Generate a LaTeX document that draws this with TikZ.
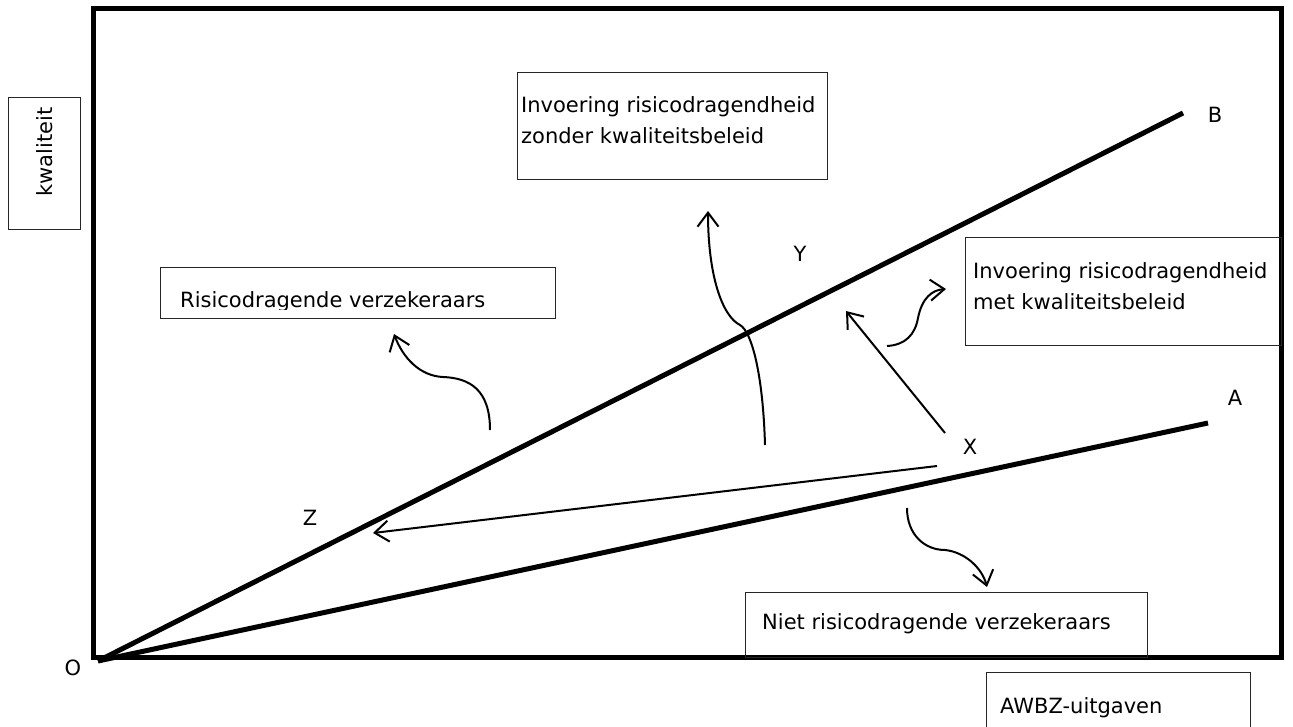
\documentclass[tikz,border=0pt]{standalone}
\usepackage{fontspec}
\setmainfont{DejaVu Sans}
\usetikzlibrary{arrows.meta}
\begin{document}
\begin{tikzpicture}[x=1pt,y=-1pt,
  box/.style={draw=black!85,line width=1pt,rectangle,inner sep=0pt,anchor=north west},
  lbl/.style={inner sep=0pt,font=\fontsize{21}{31}\selectfont},
  thick line/.style={line width=5pt},
  arr/.style={line width=2pt,-{Straight Barb[length=14pt,width=21pt,line width=2pt]}},
  curvy/.style={line width=2pt,-{Straight Barb[length=14pt,width=21pt,line width=2pt]}}]
\useasboundingbox (0,0) rectangle (1293,726);
% frame
\draw[line width=5pt] (93,8) rectangle (1281,657);
% boxes
\node[box,minimum width=72pt,minimum height=132pt] (kb) at (8,97) {};
\node[lbl,rotate=90] (kt) at (45,152) {kwaliteit};
\node[box,minimum width=310pt,minimum height=107pt] (zb) at (517,72) {};
\node[lbl,align=left,anchor=west] (zt) at (521,120.5) {Invoering risicodragendheid\\zonder kwaliteitsbeleid};
\node[box,minimum width=395pt,minimum height=51pt] (rb) at (160,267) {};
\begin{scope}
\clip (160,267) rectangle (555,309);
\node[lbl,anchor=base west] (rt) at (180,307) {Risicodragende verzekeraars};
\end{scope}
\node[box,minimum width=316pt,minimum height=108pt] (mb) at (965,237) {};
\node[lbl,align=left,anchor=west] (mt) at (973,286.5) {Invoering risicodragendheid\\met kwaliteitsbeleid};
\node[box,minimum width=402pt,minimum height=65pt] (nb) at (745,592) {};
\node[lbl,anchor=west] (nt) at (762,624) {Niet risicodragende verzekeraars};
\node[box,minimum width=264pt,minimum height=70pt] (ab) at (986,672) {};
\node[lbl,anchor=west] (at) at (1000,708) {AWBZ-uitgaven};
% main lines
\coordinate (O) at (98,661);
\coordinate (Bend) at (1183,113);
\coordinate (Aend) at (1208,423);
\draw[thick line] (O) -- (Bend);
\draw[thick line] (O) -- (Aend);
% point labels
\node[lbl] (lB) at (1215,115) {B};
\node[lbl] (lA) at (1235,398) {A};
\node[lbl] (lY) at (800,254) {Y};
\node[lbl] (lX) at (970,447) {X};
\node[lbl] (lZ) at (310,518) {Z};
\node[lbl] (lO) at (73,668) {O};
% arrows
\coordinate (x1) at (937,466);
\coordinate (z1) at (373,533);
\draw[arr] (x1) -- (z1);
\coordinate (x2) at (945,433);
\coordinate (y2) at (846,311);
\draw[arr] (x2) -- (y2);
\coordinate (c1s) at (490,430);
\coordinate (c1e) at (394,334);
\draw[curvy] (c1s) .. controls (490,390) and (470,378) .. (443,377) .. controls (420,376) and (403,358) .. (c1e);
\coordinate (c2s) at (765,445);
\coordinate (c2e) at (708,211);
\draw[curvy] (c2s) .. controls (763,375) and (752,332) .. (740,325) .. controls (722,316) and (708,275) .. (c2e);
\coordinate (c3s) at (887,346);
\coordinate (c3e) at (946,289);
\draw[curvy] (c3s) .. controls (905,345) and (915,335) .. (918,318) .. controls (922,298) and (932,290) .. (c3e);
\coordinate (c4s) at (907,508);
\coordinate (c4e) at (987,587);
\draw[curvy] (c4s) .. controls (907,535) and (925,550) .. (945,550) .. controls (965,552) and (982,568) .. (c4e);
\end{tikzpicture}
\end{document}
